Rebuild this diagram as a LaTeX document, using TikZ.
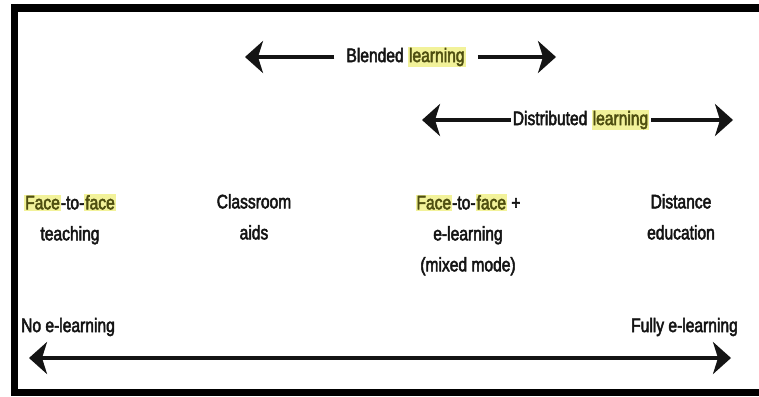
\documentclass[tikz,border=0pt]{standalone}
\usepackage{fontspec}
\usetikzlibrary{arrows.meta}
\newfontfamily\labelfont[FakeStretch=0.8,FakeBold=2.5]{Liberation Sans}
\definecolor{hlyellow}{HTML}{F2F29A}
\definecolor{hltext}{HTML}{4E4E10}
\definecolor{ink}{HTML}{141414}
\newcommand{\hlword}[1]{{\setlength{\fboxsep}{1pt}\colorbox{hlyellow}{\color{hltext}#1}}}
\tikzset{
  lbl/.style={font=\labelfont\fontsize{19.5}{31}\selectfont, text=ink, inner sep=0pt, align=center},
  bigarrow/.style={line width=3.5pt, draw=ink, -{Stealth[length=18pt,width=32pt,inset=5pt]}},
  frame/.style={draw=black}
}
\begin{document}
\begin{tikzpicture}[x=1pt,y=-1pt]
\useasboundingbox[fill=white] (0,0) rectangle (759,396);
% frame
\draw[frame, line width=8pt] (11,8) -- (759,8);
\draw[frame, line width=7pt] (14.5,4) -- (14.5,396);
\draw[frame, line width=7pt] (11,392.5) -- (759,392.5);

% blended learning
\node[lbl, inner xsep=12pt] (bl) at (406,57) {Blended \hlword{learning}};
\coordinate (blL) at (245,57);
\coordinate (blR) at (556,57);
\draw[bigarrow] (bl.west) -- (blL);
\draw[bigarrow] (bl.east) -- (blR);

% distributed learning
\node[lbl, inner xsep=2pt] (dl) at (581,120) {Distributed \hlword{learning}};
\coordinate (dlL) at (422,120);
\coordinate (dlR) at (733,120);
\draw[bigarrow] (dl.west) -- (dlL);
\draw[bigarrow] (dl.east) -- (dlR);

% categories
\node[lbl, anchor=north] (ftf) at (70,194) {\hlword{Face}-to-\hlword{face}\\teaching};
\node[lbl, anchor=north] (cra) at (254,194) {Classroom\\aids};
\node[lbl, anchor=north] (mix) at (468,194) {\hlword{Face}-to-\hlword{face} +\\e-learning\\(mixed mode)};
\node[lbl, anchor=north] (dist) at (681,194) {Distance\\education};

% scale
\node[lbl, anchor=west] (noe) at (21,327) {No e-learning};
\node[lbl, anchor=east] (full) at (738,327) {Fully e-learning};
\coordinate (scL) at (29,358);
\coordinate (scR) at (731,358);
\draw[bigarrow, {Stealth[length=18pt,width=32pt,inset=5pt]}-{Stealth[length=18pt,width=32pt,inset=5pt]}] (scL) -- (scR);
\end{tikzpicture}
\end{document}
